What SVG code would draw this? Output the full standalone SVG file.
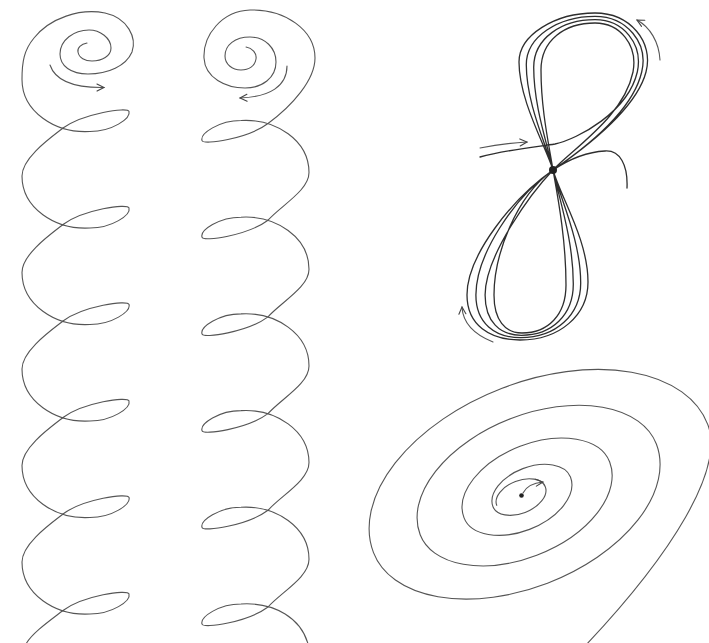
<svg xmlns="http://www.w3.org/2000/svg" xmlns:xlink="http://www.w3.org/1999/xlink" width="709" height="643" viewBox="0 0 709 643">
<style>
.ln{fill:none;stroke:#555;stroke-width:1.1;stroke-linecap:round;stroke-linejoin:round}
.dk{fill:none;stroke:#2e2e2e;stroke-width:1.3;stroke-linecap:round;stroke-linejoin:round}
.ns{vector-effect:non-scaling-stroke}
</style>
<defs>
<marker id="ah" viewBox="-8 -5 10 10" markerWidth="10" markerHeight="10" refX="0" refY="0" orient="auto" markerUnits="userSpaceOnUse">
<path d="M-7,-3.5 L0,0 L-7,3.5" fill="none" stroke="#444" stroke-width="1.1" stroke-linecap="round"/>
</marker>
<path id="lp" d="M0,0 C-13,10 -41,30 -41,48 C-41,80 -8,102 27,100 C49,100 68,87 66,80 C65,75 20,81.5 0,96.5"/>
<path id="rp" d="M0,0 C-20,15 -65,22 -66,17 C-68,10 -49,-3 -27,-3 C8,-5 41,17 41,49 C41,67 13,82 0,96.7"/>
</defs>
<rect width="709" height="643" fill="#fff"/>

<g id="left-helix" class="ln">
<path d="M87,43 C81,44 77,48 78,52 C79,58 85,61 92,61 C102,61 111,56 111,48 C111,38 100,30 89,30 C74,30 60,40 60,54 C60,66 71,74 88,74 C108,74 126,66 132,52 C137,38 128,18 105,13 C80,8 50,18 34,38 C24,50 22,62 22,79.5 C22,111.5 55,133.5 90,131.5 C112,131.5 131,118.5 129,111.5 C128,106.5 83,113.5 63,128"/>
<use xlink:href="#lp" href="#lp" transform="translate(63,128)"/>
<use xlink:href="#lp" href="#lp" transform="translate(63,224.5)"/>
<use xlink:href="#lp" href="#lp" transform="translate(63,321)"/>
<use xlink:href="#lp" href="#lp" transform="translate(63,417.5)"/>
<use xlink:href="#lp" href="#lp" transform="translate(63,514)"/>
<path d="M63,610.5 C50,620.5 32,633 26,644"/>
<path d="M50,65 C55,80 72,88 104,87.5" marker-end="url(#ah)"/>
</g>

<g id="right-helix" class="ln">
<path d="M246,47 C252,48 257,53 256,59 C255,66 249,70 241,70 C232,70 225,64 225,56 C225,45 235,37 250,37 C265,37 276,48 276,62 C276,78 262,88 245,88 C226,88 205,78 204,58 C203,35 222,11 250,10 C285,9 315,30 315,58 C315,80 292,106 268,123.5"/>
<use xlink:href="#rp" href="#rp" transform="translate(268,123.5)"/>
<use xlink:href="#rp" href="#rp" transform="translate(268,220.2)"/>
<use xlink:href="#rp" href="#rp" transform="translate(268,316.9)"/>
<use xlink:href="#rp" href="#rp" transform="translate(268,413.6)"/>
<use xlink:href="#rp" href="#rp" transform="translate(268,510.3)"/>
<path d="M268,607 C248,622 203,629 202,624 C200,617 219,604 241,604 C274,602 303,618 309,648"/>
<path d="M287,66 C287,86 270,97 240,98" marker-end="url(#ah)"/>
</g>

<g id="figure-eight">
<path class="dk" d="M480,157 C505,150 535,147 555,144 C578,139 628,112 637.3,72
C643.3,44 623.3,19.7 595,19.7 C561.7,19.7 533.7,38.3 533.7,67.3 C533.7,106.7 547.7,145 553,170
C561,198 588,240 588,282 C588,315 560,340 520,340 C490,340 467,325 467,295 C467,255 513,198 553,170
C585,148 636,110 646,72 C654,42 630,13 595,13 C555,13 519,35 519,62 C519,100 545,145 553,170
C560,198 580.7,240 580.7,283 C580.7,315 556,337.7 520.7,337.7 C495,337.7 475.9,323.3 475.9,295 C475.9,255 514,197.3 553,170
C583.4,149.3 632.4,111.7 641.7,72 C648.7,43 626.7,16.3 595,16.3 C558.3,16.3 526.3,36.7 526.3,64.7 C526.3,103.3 546.3,145 553,170
C559,198 573.3,240 573.3,284 C573.3,315 552,335.3 521.3,335.3 C500,335.3 485.1,321.7 485.1,295 C485.1,255 532,192 553,170
C575,147 624,116 633,72 C638,45 620,23 595,23 C565,23 541,40 541,70 C541,110 549,145 553,170
C558,198 566,240 566,285 C566,315 548,333 522,333 C505,333 494,320 494,295 C494,255 516,196 553,170
C568,160 585,152 605,151 C620,150 628,165 627,188"/>
<circle cx="553" cy="170" r="4" fill="#222"/>
<path class="ln" d="M480,148 C495,145 510,143 527,142" marker-end="url(#ah)"/>
<path class="ln" d="M660,60 C659,42 650,27 637,20" marker-end="url(#ah)"/>
<path class="ln" d="M493,342 C478,336 463,325 462,307" marker-end="url(#ah)"/>
</g>

<g id="spiral">
<g transform="translate(521,496) rotate(-21) scale(1,0.6)">
<path class="ln ns" d="M-26,0 A26,26 0 0 1 26,0 A28,28 0 0 1 -30,0 A41.5,41.5 0 0 1 53,0 A57,57 0 0 1 -61,0 A78,78 0 0 1 95,0 A101.5,101.5 0 0 1 -108,0 A126.5,126.5 0 0 1 145,0 A151.5,151.5 0 0 1 -158,0 A179,179 0 0 1 200,0 C200,80 120,180 8,270"/>
</g>
<circle cx="521.5" cy="495.5" r="2.3" fill="#222"/>
<path class="ln" d="M523,493 C526,487 532,483 543,482" marker-end="url(#ah)"/>
</g>
</svg>
